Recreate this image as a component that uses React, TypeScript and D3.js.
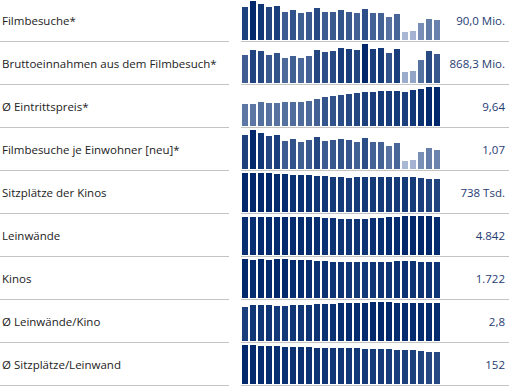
import { useEffect, useRef } from "react";
import * as d3 from "d3";

const years = [
  "2000", "2001", "2002", "2003", "2004", "2005", "2006", "2007", "2008", "2009",
  "2010", "2011", "2012", "2013", "2014", "2015", "2016", "2017", "2018", "2019",
  "2020", "2021", "2022", "2023", "2024",
];

const labels = [
  "Filmbesuche*",
  "Bruttoeinnahmen aus dem Filmbesuch*",
  "Ø Eintrittspreis*",
  "Filmbesuche je Einwohner [neu]*",
  "Sitzplätze der Kinos",
  "Leinwände",
  "Kinos",
  "Ø Leinwände/Kino",
  "Ø Sitzplätze/Leinwand",
];

const valueLabels = [
  "90,0 Mio.", "868,3 Mio.", "9,64", "1,07", "738 Tsd.", "4.842", "1.722", "2,8", "152",
];

const filmbesuche = [152.5, 177.9, 163.9, 149.0, 156.7, 127.3, 136.7, 125.4, 129.4, 146.3,
  126.6, 129.6, 135.1, 129.7, 121.7, 139.2, 121.1, 122.3, 105.4, 118.6, 38.1, 42.1, 77.8, 95.7, 90.0];
const einnahmen = [824.5, 987.2, 960.1, 850.0, 892.9, 745.0, 814.4, 757.9, 794.7, 976.1,
  920.4, 958.1, 1033.0, 1023.0, 979.7, 1167.1, 1023.0, 1056.1, 899.3, 1023.7, 318.6, 367.4, 694.2, 944.7, 868.3];
const preis = [5.44, 5.45, 5.85, 5.71, 5.70, 5.85, 5.96, 6.04, 6.14, 6.67,
  7.27, 7.39, 7.65, 7.89, 8.05, 8.38, 8.45, 8.63, 8.53, 8.63, 8.36, 8.85, 9.1, 9.55, 9.64];
const jeEinwohner = [1.86, 2.16, 1.99, 1.81, 1.90, 1.54, 1.66, 1.52, 1.58, 1.79,
  1.55, 1.60, 1.65, 1.61, 1.50, 1.71, 1.47, 1.48, 1.27, 1.43, 0.46, 0.51, 0.94, 1.14, 1.07];
const sitzplaetze = [872, 870, 868, 866, 850, 848, 830, 826, 825, 805,
  800, 785, 782, 770, 783, 785, 784, 783, 784, 786, 785, 780, 760, 745, 738];
const leinwaende = [4783, 4792, 4868, 4868, 4870, 4889, 4848, 4832, 4810, 4800,
  4699, 4690, 4617, 4610, 4637, 4640, 4739, 4740, 4849, 4850, 4961, 4960, 4955, 4958, 4842];
const kinos = [1866, 1840, 1866, 1835, 1862, 1860, 1830, 1830, 1800, 1770,
  1765, 1740, 1745, 1710, 1705, 1700, 1730, 1740, 1735, 1770, 1760, 1750, 1745, 1740, 1722];
const leinwandJeKino = [2.5, 2.65, 2.65, 2.66, 2.6, 2.6, 2.65, 2.64, 2.66, 2.7,
  2.72, 2.73, 2.78, 2.79, 2.8, 2.8, 2.86, 2.87, 2.86, 2.8, 2.8, 2.81, 2.8, 2.81, 2.8];
const sitzeJeLeinwand = [185, 183, 180, 179, 178, 176, 175, 175, 174, 173,
  171, 170, 170, 169, 169, 167, 166, 165, 164, 162, 161, 160, 157, 153, 152];

const series = [filmbesuche, einnahmen, preis, jeEinwohner, sitzplaetze,
  leinwaende, kinos, leinwandJeKino, sitzeJeLeinwand];

const App = () => {
  const ref = useRef<SVGSVGElement>(null);

  useEffect(() => {
    const width = 521;
    const height = 387;
    const rowH = 43;
    const barMax = 39;
    const font = "'Segoe UI', 'Open Sans', sans-serif";

    const svg = d3.select(ref.current);
    svg.selectAll("*").remove();
    svg.attr("width", width).attr("height", height);

    const x = d3.scaleBand()
      .domain(years)
      .range([241, 441])
      .paddingInner(0.25)
      .paddingOuter(0.125);

    const color = d3.scaleLinear<string>()
      .domain([0, 1])
      .range(["#d5def0", "#00286b"]);

    series.forEach((vals, i) => {
      const top = i * rowH;
      const base = top + 40;
      const y = d3.scaleLinear()
        .domain([0, d3.max(vals) as number])
        .range([0, barMax]);
      const max = d3.max(vals) as number;

      const g = svg.append("g");

      g.append("text")
        .attr("x", 2)
        .attr("y", top + 25)
        .attr("font-family", font)
        .attr("font-size", 11.5)
        .attr("fill", "#222")
        .text(labels[i]);

      g.selectAll("rect")
        .data(vals)
        .enter()
        .append("rect")
        .attr("x", (d, j) => x(years[j]) as number)
        .attr("y", d => base - Math.round(y(d)))
        .attr("width", x.bandwidth())
        .attr("height", d => Math.round(y(d)))
        .attr("fill", d => color(d / max))
        .attr("shape-rendering", "crispEdges");

      g.append("text")
        .attr("x", 505)
        .attr("y", top + 25)
        .attr("text-anchor", "end")
        .attr("font-family", font)
        .attr("font-size", 11.5)
        .attr("fill", "#1f3b73")
        .text(valueLabels[i]);

      g.append("line")
        .attr("x1", 0)
        .attr("x2", 229)
        .attr("y1", base + 1.5)
        .attr("y2", base + 1.5)
        .attr("stroke", "#c4c4c4")
        .attr("stroke-width", 1);

      g.append("line")
        .attr("x1", 241)
        .attr("x2", 509)
        .attr("y1", base + 1.5)
        .attr("y2", base + 1.5)
        .attr("stroke", "#c4c4c4")
        .attr("stroke-width", 1);
    });
  }, []);

  return (
    <svg ref={ref} style={{ position: "absolute", left: 0, top: 0, background: "#fff" }} />
  );
};

export default App;
